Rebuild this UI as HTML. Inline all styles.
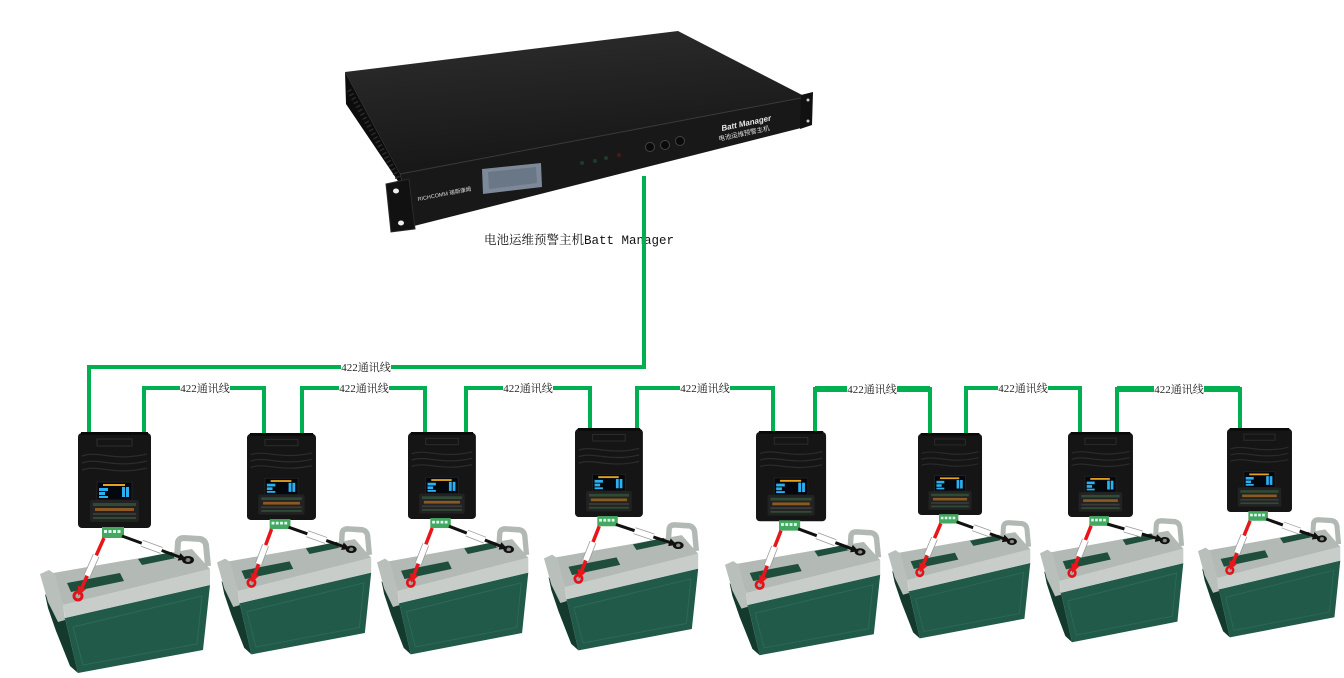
<!DOCTYPE html>
<html><head><meta charset="utf-8">
<style>
html,body{margin:0;padding:0;background:#fff;}
svg{display:block;}
.lbl{font-family:"Liberation Serif","Noto Serif CJK SC",serif;font-size:11px;fill:#222;}
</style></head><body>
<svg width="1344" height="678" viewBox="0 0 1344 678" xmlns="http://www.w3.org/2000/svg">
<defs>
 <linearGradient id="topg" x1="0" y1="0" x2="0.3" y2="1">
  <stop offset="0" stop-color="#2e2e2e"/><stop offset="1" stop-color="#161616"/>
 </linearGradient>
 <marker id="ar" viewBox="0 0 10 10" refX="8" refY="5" markerWidth="9" markerHeight="9" markerUnits="userSpaceOnUse" orient="auto"><path d="M0,0 L10,5 L0,10 z" fill="#e8161b"/></marker>
 <marker id="ab" viewBox="0 0 10 10" refX="8" refY="5" markerWidth="8" markerHeight="8" markerUnits="userSpaceOnUse" orient="auto"><path d="M0,0 L10,5 L0,10 z" fill="#111"/></marker>
 <g id="mod">
  <rect x="0" y="1" width="73" height="95" rx="4" fill="#151515"/>
  <rect x="3" y="0" width="67" height="3" fill="#0a0a0a"/>
  <rect x="19" y="7" width="35" height="7" fill="none" stroke="#2e2e2e" stroke-width="1"/>
  <path d="M4 24 C20 18 35 30 69 22" stroke="#2c2c2c" stroke-width="1.3" fill="none"/>
  <path d="M4 31 C20 25 35 37 69 29" stroke="#2c2c2c" stroke-width="1.3" fill="none"/>
  <path d="M4 38 C20 32 35 44 69 36" stroke="#2c2c2c" stroke-width="1.3" fill="none"/>
  <rect x="19" y="50" width="35" height="18" fill="#04070d" stroke="#262626" stroke-width="0.8"/>
  <rect x="25" y="52" width="22" height="2" fill="#e6a21e"/>
  <rect x="21" y="56" width="9" height="3" fill="#2bb0f0"/>
  <rect x="21" y="60" width="6" height="3" fill="#2bb0f0"/>
  <rect x="21" y="64" width="9" height="2" fill="#2bb0f0"/>
  <rect x="44" y="55" width="3" height="10" fill="#2bb0f0"/>
  <rect x="48" y="55" width="3" height="10" fill="#2bb0f0"/>
  <rect x="12" y="68" width="49" height="22" rx="2" fill="#222"/>
  <rect x="15" y="71" width="43" height="3" fill="#2f4a35"/>
  <rect x="17" y="76" width="39" height="3" fill="#8a5a22"/>
  <rect x="15" y="81" width="43" height="2" fill="#3a3a3a"/>
  <rect x="15" y="85" width="43" height="2" fill="#2f4a35"/>
  <rect x="24" y="95" width="22" height="11" fill="#44a860"/>
  <rect x="26" y="98" width="3" height="3" fill="#dfe"/>
  <rect x="30.5" y="98" width="3" height="3" fill="#dfe"/>
  <rect x="35" y="98" width="3" height="3" fill="#dfe"/>
  <rect x="39.5" y="98" width="3" height="3" fill="#dfe"/>
 </g>
 <g id="bat">
  <polygon points="5,58 25,82 38,137 30,130 16,95 8,72" fill="#143a2e"/>
  <polygon points="25,82 170,49 163,114 38,137" fill="#215a49"/>
  <polygon points="33,91 162,60 157,108 43,129" fill="none" stroke="#2c6a57" stroke-width="1"/>
  <polygon points="23,69 170,33 170,49 25,82" fill="#c8cdc9"/>
  <polygon points="13,37 152,13 170,33 23,69" fill="#b3bab5"/>
  <polygon points="27,47 80,37 84,45 31,56" fill="#1f4e3d"/>
  <polygon points="98,23 132,16 136,22 102,29" fill="#1f4e3d"/>
  <polygon points="0,38 9,34 15,38 23,69 25,84 18,86 8,66" fill="#b9bfba"/>
  <path d="M137,22 L138,6 Q139,2 144,2 L160,3 Q165,4 166,9 L168,30" fill="none" stroke="#b2b9b4" stroke-width="6"/>
  <circle cx="38" cy="60" r="5.5" fill="#e3121a"/>
  <circle cx="38" cy="60" r="2.5" fill="#a5aaa6"/>
  <ellipse cx="148" cy="24" rx="6" ry="4" fill="#111"/>
  <ellipse cx="148" cy="24" rx="2.5" ry="2" fill="#888"/>
 </g>
</defs>

<!-- main unit -->
<polygon points="345,72 678,31 806,97 400,174" fill="url(#topg)"/>
<polygon points="345,72 400,174 404,190 346,104" fill="#0c0c0c"/>
<path d="M349 90 L399 180" stroke="#2a2a2a" stroke-width="5" stroke-dasharray="1.5 3" fill="none"/>
<polygon points="400,174 806,97 801,128 414,226" fill="#181818"/>
<line x1="400" y1="174" x2="806" y2="97" stroke="#3a3a3a" stroke-width="1"/>
<polygon points="386,184 409,179 415,229 391,232" fill="#111" stroke="#2a2a2a" stroke-width="1"/>
<ellipse cx="396" cy="191" rx="3" ry="2.5" fill="#eee"/>
<ellipse cx="401" cy="223" rx="3" ry="2.5" fill="#eee"/>
<polygon points="801,95 813,92 812,125 800,129" fill="#111"/>
<circle cx="808" cy="100" r="1.5" fill="#ccc"/>
<circle cx="808" cy="121" r="1.5" fill="#ccc"/>
<polygon points="482,169 541,163 542,187 483,194" fill="#7d8898"/>
<polygon points="488,172 536,167 537,183 489,189" fill="#6a7787"/>
<text transform="translate(418,201) rotate(-11)" font-family="Liberation Sans, Noto Sans CJK SC, sans-serif" font-size="5.5" fill="#ddd">RICHCOMM 瑞斯康姆</text>
<circle cx="582" cy="163" r="2" fill="#1d3d2a"/>
<circle cx="595" cy="161" r="2" fill="#1d3d2a"/>
<circle cx="606" cy="158" r="2" fill="#1d3d2a"/>
<circle cx="619" cy="155" r="2" fill="#4a1a1a"/>
<circle cx="650" cy="147" r="4.5" fill="#0a0a0a" stroke="#444" stroke-width="1"/>
<circle cx="665" cy="145" r="4.5" fill="#0a0a0a" stroke="#444" stroke-width="1"/>
<circle cx="680" cy="141" r="4.5" fill="#0a0a0a" stroke="#444" stroke-width="1"/>
<text transform="translate(722,131) rotate(-12)" font-family="Liberation Sans, sans-serif" font-style="italic" font-weight="bold" font-size="8" fill="#e8e8e8">Batt Manager</text>
<text transform="translate(719,141) rotate(-12)" font-family="Liberation Sans, Noto Sans CJK SC, sans-serif" font-size="6.5" fill="#ddd">电池运维预警主机</text>

<!-- main label -->
<text x="484" y="244" font-family="Liberation Mono, Noto Serif CJK SC, serif" font-size="12.5" fill="#111">电池运维预警主机Batt Manager</text>

<!-- green lines -->
<g fill="none" stroke="#00b050" stroke-width="4" stroke-linejoin="miter">
 <polyline points="644,176 644,367 89,367 89,434"/>
 <polyline points="144,434 144,388 264,388 264,435"/>
 <polyline points="302,435 302,388 425,388 425,434"/>
 <polyline points="466,434 466,388 590,388 590,430"/>
 <polyline points="637,430 637,388 773,388 773,433"/>
 <polyline points="815,433 815,389 930,389 930,435"/>
 <polyline points="966,435 966,388 1080,388 1080,434"/>
 <polyline points="1117,434 1117,389 1240,389 1240,430"/>
</g>
<g stroke="#00b050" stroke-width="6">
 <line x1="815" y1="389" x2="930" y2="389"/>
 <line x1="1117" y1="389" x2="1240" y2="389"/>
</g>

<!-- labels -->
<g fill="#fff">
 <rect x="341" y="361" width="50" height="12"/>
 <rect x="180" y="382" width="50" height="12"/>
 <rect x="339" y="382" width="50" height="12"/>
 <rect x="503" y="382" width="50" height="12"/>
 <rect x="680" y="382" width="50" height="12"/>
 <rect x="847" y="383" width="50" height="12"/>
 <rect x="998" y="382" width="50" height="12"/>
 <rect x="1154" y="383" width="50" height="12"/>
</g>
<g class="lbl" text-anchor="middle">
 <text x="366" y="371">422通讯线</text>
 <text x="205" y="392">422通讯线</text>
 <text x="364" y="392">422通讯线</text>
 <text x="528" y="392">422通讯线</text>
 <text x="705" y="392">422通讯线</text>
 <text x="872" y="393">422通讯线</text>
 <text x="1023" y="392">422通讯线</text>
 <text x="1179" y="393">422通讯线</text>
</g>

<!-- batteries -->
<use href="#bat" transform="translate(40,536)"/>
<use href="#bat" transform="translate(217,527) scale(0.907,0.93)"/>
<use href="#bat" transform="translate(377,527) scale(0.89,0.93)"/>
<use href="#bat" transform="translate(544,523) scale(0.907,0.93)"/>
<use href="#bat" transform="translate(725,530) scale(0.913,0.914)"/>
<use href="#bat" transform="translate(888,521) scale(0.837,0.857)"/>
<use href="#bat" transform="translate(1040,519) scale(0.843,0.9)"/>
<use href="#bat" transform="translate(1198,518) scale(0.837,0.871)"/>

<!-- modules -->
<use href="#mod" transform="translate(78,432)"/>
<use href="#mod" transform="translate(247,433) scale(0.945,0.906)"/>
<use href="#mod" transform="translate(408,432) scale(0.93,0.906)"/>
<use href="#mod" transform="translate(575,428) scale(0.93,0.927)"/>
<use href="#mod" transform="translate(756,431) scale(0.96,0.94)"/>
<use href="#mod" transform="translate(918,433) scale(0.877,0.854)"/>
<use href="#mod" transform="translate(1068,432) scale(0.89,0.885)"/>
<use href="#mod" transform="translate(1227,428) scale(0.89,0.875)"/>

<!-- red wires -->
<g stroke="#e8161b" stroke-width="3.5" fill="none" marker-end="url(#ar)">
 <line x1="104" y1="538" x2="79" y2="594"/>
 <line x1="271.6" y1="529" x2="252.3" y2="581"/>
 <line x1="432.2" y1="528" x2="411.6" y2="581"/>
 <line x1="599.2" y1="526.3" x2="579.3" y2="577"/>
 <line x1="781" y1="530.6" x2="760.5" y2="583"/>
 <line x1="940.8" y1="523.5" x2="920.6" y2="570.6"/>
 <line x1="1091.1" y1="525.8" x2="1072.8" y2="571.2"/>
 <line x1="1250.1" y1="520.8" x2="1230.6" y2="568.5"/>
</g>
<!-- black wires -->
<g stroke="#111" stroke-width="3" fill="none" marker-end="url(#ab)">
 <line x1="122" y1="536" x2="185" y2="559"/>
 <line x1="288.6" y1="527.2" x2="348.4" y2="548.3"/>
 <line x1="448.9" y1="526.2" x2="505.9" y2="548.2"/>
 <line x1="615.9" y1="524.4" x2="675.4" y2="544.3"/>
 <line x1="798.2" y1="528.8" x2="857.3" y2="550.8"/>
 <line x1="956.6" y1="521.8" x2="1009.1" y2="540.6"/>
 <line x1="1107.2" y1="524" x2="1162" y2="539.8"/>
 <line x1="1266.2" y1="519" x2="1319.1" y2="537.9"/>
</g>
<!-- wire stickers -->
<g stroke="#999" stroke-width="7" stroke-linecap="butt">
 <line x1="96.2" y1="555.4" x2="87.1" y2="575.7"/>
 <line x1="265.6" y1="545.1" x2="258.5" y2="564"/>
 <line x1="425.8" y1="544.4" x2="418.3" y2="563.6"/>
 <line x1="593" y1="542" x2="585.7" y2="560.4"/>
 <line x1="774.6" y1="546.9" x2="767.2" y2="565.8"/>
 <line x1="934.5" y1="538.2" x2="927.2" y2="555.3"/>
 <line x1="1085.4" y1="540" x2="1078.7" y2="556.5"/>
 <line x1="1244" y1="535.6" x2="1236.9" y2="552.9"/>
 <line x1="141.8" y1="543.2" x2="161.6" y2="550.4"/>
 <line x1="307.4" y1="533.8" x2="326.2" y2="540.5"/>
 <line x1="466.8" y1="533.1" x2="484.8" y2="540.1"/>
 <line x1="634.6" y1="530.7" x2="653.3" y2="537"/>
 <line x1="816.8" y1="535.7" x2="835.3" y2="542.7"/>
 <line x1="973.2" y1="527.7" x2="989.8" y2="533.7"/>
 <line x1="1124.5" y1="529" x2="1141.8" y2="534"/>
 <line x1="1282.9" y1="525" x2="1299.6" y2="531"/>
</g>
<g stroke="#fff" stroke-width="5.5" stroke-linecap="butt">
 <line x1="96.2" y1="555.4" x2="87.1" y2="575.7"/>
 <line x1="265.6" y1="545.1" x2="258.5" y2="564"/>
 <line x1="425.8" y1="544.4" x2="418.3" y2="563.6"/>
 <line x1="593" y1="542" x2="585.7" y2="560.4"/>
 <line x1="774.6" y1="546.9" x2="767.2" y2="565.8"/>
 <line x1="934.5" y1="538.2" x2="927.2" y2="555.3"/>
 <line x1="1085.4" y1="540" x2="1078.7" y2="556.5"/>
 <line x1="1244" y1="535.6" x2="1236.9" y2="552.9"/>
 <line x1="141.8" y1="543.2" x2="161.6" y2="550.4"/>
 <line x1="307.4" y1="533.8" x2="326.2" y2="540.5"/>
 <line x1="466.8" y1="533.1" x2="484.8" y2="540.1"/>
 <line x1="634.6" y1="530.7" x2="653.3" y2="537"/>
 <line x1="816.8" y1="535.7" x2="835.3" y2="542.7"/>
 <line x1="973.2" y1="527.7" x2="989.8" y2="533.7"/>
 <line x1="1124.5" y1="529" x2="1141.8" y2="534"/>
 <line x1="1282.9" y1="525" x2="1299.6" y2="531"/>
</g>
</svg>
</body></html>
